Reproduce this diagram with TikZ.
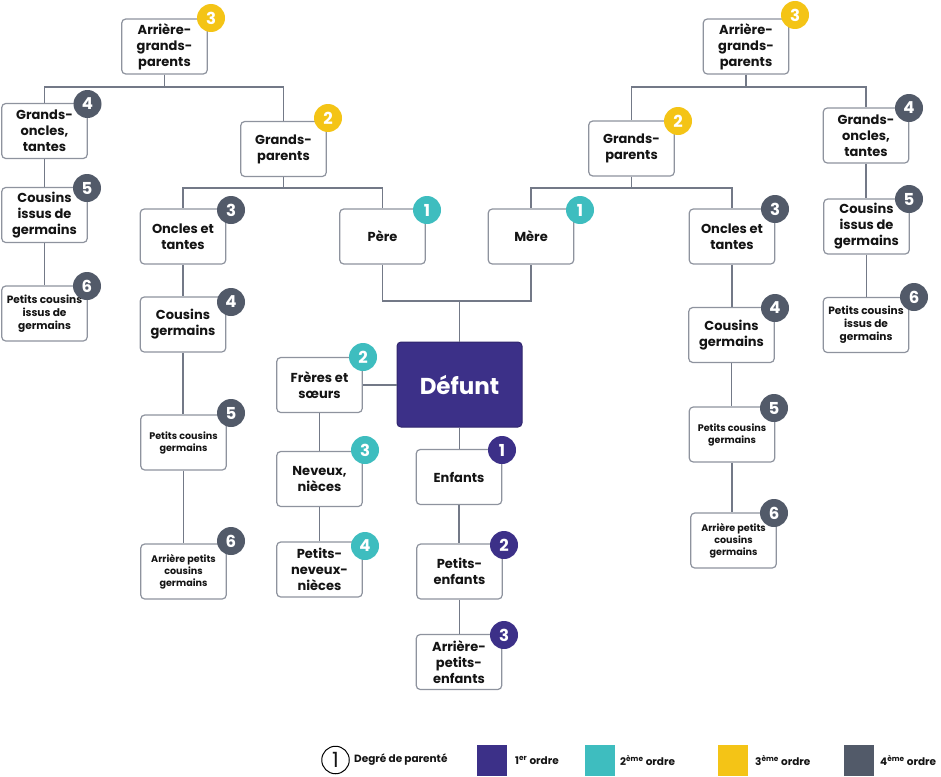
\documentclass[tikz,border=0pt]{standalone}
\usepackage{fontspec}
\setmainfont{Poppins}
\definecolor{cpurple}{HTML}{3C3088}
\definecolor{cteal}{HTML}{3EBDBF}
\definecolor{cyellow}{HTML}{F4C416}
\definecolor{cgray}{HTML}{525A69}
\definecolor{boxgray}{HTML}{8E939E}
\definecolor{linegray}{HTML}{737987}
\definecolor{txt}{HTML}{141414}
\tikzset{
  box/.style={draw=boxgray, line width=1.2pt, rounded corners=4pt, fill=white,
    minimum width=85.5pt, minimum height=55pt, align=center, inner sep=1pt, text=txt,
    font=\bfseries\fontsize{13}{16}\selectfont},
  smallbox/.style={box, font=\bfseries\fontsize{10.6}{13}\selectfont},
  tinybox/.style={box, font=\bfseries\fontsize{9.6}{12}\selectfont},
  badge/.style={circle, minimum size=28pt, inner sep=0pt, text=white,
    font=\bfseries\fontsize{16.5}{16.5}\selectfont},
  conn/.style={draw=linegray, line width=1.2pt},
  legtxt/.style={anchor=west, inner sep=0pt, text=txt, font=\bfseries\fontsize{10.5}{12}\selectfont},
  legsq/.style={minimum width=30pt, minimum height=31pt, inner sep=0pt},
}
\begin{document}
\begin{tikzpicture}[x=1pt,y=-1pt]
\useasboundingbox (0,0) rectangle (941,776);
\coordinate (hAL) at (0,87);
\coordinate (hGL) at (0,188);
\coordinate (hPM) at (0,301);
% nodes
\node[box] (agpl) at (164.5,46.5) {Arrière-\\grands-\\parents};
\node[box] (gotl) at (44.5,131) {Grands-\\oncles,\\tantes};
\node[box] (cigl) at (44.5,215) {Cousins\\issus de\\germains};
\node[smallbox] (pcigl) at (44.5,313.5) {Petits cousins\\issus de\\germains};
\node[box] (gpl) at (283.5,149) {Grands-\\parents};
\node[box] (otl) at (183,236.5) {Oncles et\\tantes};
\node[box] (cgl) at (183,324.5) {Cousins\\germains};
\node[tinybox] (pcgl) at (183.5,442.5) {Petits cousins\\germains};
\node[tinybox] (apcgl) at (183.5,571.5) {Arrière petits\\cousins\\germains};
\node[box] (pere) at (382.5,236.5) {Père};
\node[box] (mere) at (531,236.5) {Mère};
\node[draw=cpurple!80!black, line width=1pt, rounded corners=4pt, fill=cpurple,
  minimum width=125pt, minimum height=85pt, text=white,
  font=\bfseries\fontsize{23}{26}\selectfont] (defunt) at (459.5,384.5) {Défunt};
\node[box] (freres) at (319.5,385) {Frères et\\sœurs};
\node[box] (neveux) at (319.5,479) {Neveux,\\nièces};
\node[box] (pneveux) at (319.5,569.5) {Petits-\\neveux-\\nièces};
\node[box] (enfants) at (459,477) {Enfants};
\node[box] (penfants) at (459.5,571.5) {Petits-\\enfants};
\node[box] (apenfants) at (459,662) {Arrière-\\petits-\\enfants};
\node[box] (agpr) at (746,46.5) {Arrière-\\grands-\\parents};
\node[box] (gpr) at (631.5,148.5) {Grands-\\parents};
\node[box] (gotr) at (866,135.5) {Grands-\\oncles,\\tantes};
\node[box] (otr) at (732,236.5) {Oncles et\\tantes};
\node[box] (cigr) at (866.5,226.5) {Cousins\\issus de\\germains};
\node[smallbox] (pcigr) at (866,325) {Petits cousins\\issus de\\germains};
\node[box] (cgr) at (731.5,335) {Cousins\\germains};
\node[tinybox] (pcgr) at (732,434.5) {Petits cousins\\germains};
\node[tinybox] (apcgr) at (733.5,540.5) {Arrière petits\\cousins\\germains};
% connectors
\draw[conn] (agpl.south) |- (hAL -| gotl.north) -- (gotl.north);
\draw[conn] (agpl.south) |- (hAL -| gpl.north) -- (gpl.north);
\draw[conn] (gotl) -- (cigl);
\draw[conn] (cigl) -- (pcigl);
\draw[conn] (gpl.south) |- (hGL -| otl.north) -- (otl.north);
\draw[conn] (gpl.south) |- (hGL -| pere.north) -- (pere.north);
\draw[conn] (otl) -- (cgl);
\draw[conn] (cgl.south) -- (cgl.south |- pcgl.north);
\draw[conn] (pcgl.south) -- (pcgl.south |- apcgl.north);
\coordinate (pm) at (hPM -| defunt.north);
\draw[conn] (pere.south) |- (pm) -| (mere.south);
\draw[conn] (pm) -- (defunt.north);
\draw[conn] (freres.east) -- (freres.east -| defunt.west);
\draw[conn] (freres) -- (neveux);
\draw[conn] (neveux) -- (pneveux);
\draw[conn] (defunt.south) -- (defunt.south |- enfants.north);
\draw[conn] (enfants.south) -- (enfants.south |- penfants.north);
\draw[conn] (penfants.south) -- (penfants.south |- apenfants.north);
\draw[conn] (agpr.south) |- (hAL -| gpr.north) -- (gpr.north);
\draw[conn] (agpr.south) |- (hAL -| gotr.north) -- (gotr.north);
\draw[conn] (gpr.south) |- (hGL -| mere.north) -- (mere.north);
\draw[conn] (gpr.south) |- (hGL -| otr.north) -- (otr.north);
\draw[conn] (otr.south) -- (otr.south |- cgr.north);
\draw[conn] (cgr.south) -- (cgr.south |- pcgr.north);
\draw[conn] (pcgr.south) -- (pcgr.south |- apcgr.north);
\draw[conn] (gotr.south) -- (gotr.south |- cigr.north);
\draw[conn] (cigr.south) -- (cigr.south |- pcigr.north);
% ---------- badges ----------
\node[badge, fill=cyellow] (b1) at (211,18) {3};
\node[badge, fill=cgray] (b2) at (87.5,104) {4};
\node[badge, fill=cgray] (b3) at (87,188) {5};
\node[badge, fill=cgray] (b4) at (87,286) {6};
\node[badge, fill=cyellow] (b5) at (328,118) {2};
\node[badge, fill=cgray] (b6) at (231,210) {3};
\node[badge, fill=cgray] (b7) at (231,302) {4};
\node[badge, fill=cgray] (b8) at (231,413) {5};
\node[badge, fill=cgray] (b9) at (231,541) {6};
\node[badge, fill=cteal] (b10) at (427,210) {1};
\node[badge, fill=cteal] (b11) at (580,210) {1};
\node[badge, fill=cteal] (b12) at (363,357) {2};
\node[badge, fill=cteal] (b13) at (365,450) {3};
\node[badge, fill=cteal] (b14) at (365,546) {4};
\node[badge, fill=cpurple] (b15) at (502,450) {1};
\node[badge, fill=cpurple] (b16) at (504,545) {2};
\node[badge, fill=cpurple] (b17) at (504,635) {3};
\node[badge, fill=cyellow] (b18) at (795,15) {3};
\node[badge, fill=cyellow] (b19) at (678,121) {2};
\node[badge, fill=cgray] (b20) at (909,108) {4};
\node[badge, fill=cgray] (b21) at (775,209) {3};
\node[badge, fill=cgray] (b22) at (909,199) {5};
\node[badge, fill=cgray] (b23) at (914,297) {6};
\node[badge, fill=cgray] (b24) at (775,308) {4};
\node[badge, fill=cgray] (b25) at (774,408) {5};
\node[badge, fill=cgray] (b26) at (774,513) {6};
% ---------- legend ----------
\node[circle, draw=black, line width=1pt, minimum size=27.5pt, inner sep=0pt] (lc) at (335.5,760) {};
\node[inner sep=0pt, text height=15pt, text depth=0pt, text=txt, font=\fontsize{21}{21}\selectfont] (lcn) at (lc.center) {1};
\node[legtxt] (l0) at (354,760) {Degré de parenté};
\node[legsq, fill=cpurple] (s1) at (492,760.5) {};
\node[legtxt] (l1) at (515,760) {1\textsuperscript{er} ordre};
\node[legsq, fill=cteal] (s2) at (600,760.5) {};
\node[legtxt] (l2) at (620,760) {2\textsuperscript{ème} ordre};
\node[legsq, fill=cyellow] (s3) at (733,760.5) {};
\node[legtxt] (l3) at (755,760) {3\textsuperscript{ème} ordre};
\node[legsq, fill=cgray] (s4) at (858.5,760.5) {};
\node[legtxt] (l4) at (880,760) {4\textsuperscript{ème} ordre};
\end{tikzpicture}
\end{document}
